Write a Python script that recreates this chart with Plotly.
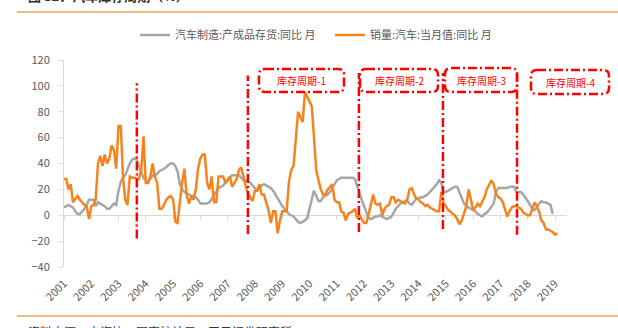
import pandas as pd
import plotly.graph_objects as go

# ---- data -------------------------------------------------------------
YEARS = ["2001", "2002", "2003", "2004", "2005", "2006", "2007", "2008", "2009", "2010",
         "2011", "2012", "2013", "2014", "2015", "2016", "2017", "2018", "2019"]

# 汽车制造:产成品存货:同比 (monthly, from 2001-01)
INVENTORY_YOY = [
    6, 7, 8, 7, 6, 3, 1, 1, 3, 5, 8, 12,
    12, 12, 7, 10, 9, 8, 7, 5, 5, 7, 9, 8,
    19, 26, 29, 31, 36, 40, 43, 44, 43, 38, 33, 29,
    27, 26, 28, 31, 30, 32, 34, 35, 36, 37, 39, 40,
    40, 38, 34, 24, 20, 18, 17, 16, 15, 15, 14, 12,
    9, 9, 9, 9, 10, 13, 16, 18, 21, 22, 23, 25,
    27, 29, 31, 31, 31, 31, 29, 27, 27, 26, 25, 23,
    21, 19, 21, 23, 24, 23, 22, 21, 19, 16, 13, 10,
    7, 5, 3, 1, 0, -1, -3, -5, -6, -5, -4, -2,
    6, 13, 19, 15, 11, 11, 14, 15, 16, 18, 21, 24,
    27, 28, 29, 29, 29, 29, 29, 29, 28, 22, 17, 12,
    7, 3, -2, -3, -2, -1, -1, 0, -1, -2, -3, -2,
    -1, 2, 5, 7, 9, 10, 11, 11, 9, 8, 11, 13,
    13, 14, 14, 15, 16, 18, 20, 22, 24, 27, 25, 18,
    18, 19, 20, 21, 22, 22, 18, 13, 9, 7, 6, 5,
    4, 3, 1, 0, -1, 1, 2, 4, 7, 9, 18, 21,
    21, 21, 21, 21, 22, 22, 22, 18, 18, 18, 16, 13,
    11, 8, 5, 4, 6, 9, 11, 10, 10, 9, 8, 1,
]

# 销量:汽车:当月值:同比 (monthly, from 2001-01)
SALES_YOY = [
    28, 28, 20, 24, 10, 13, 15, 12, 10, 8, 7, -3,
    7, 8, 12, 40, 46, 38, 47, 40, 44, 54, 50, 36,
    69, 69, 30, 12, 8, 30, 29, 29, 28, 28, 35, 61,
    25, 25, 30, 40, 30, 25, 5, 5, 8, 12, 14, 15,
    12, -5, -6, 12, 25, 36, 15, 9, 15, 12, 20, 36,
    44, 47, 47, 25, 20, 30, 10, 10, 30, 30, 30, 25,
    28, 30, 22, 25, 28, 35, 37, 30, 22, 17, 14, 11,
    19, 19, 24, 16, 16, 9, 4, -6, 3, 3, -14, -4,
    3, 3, 3, 26, 35, 38, 58, 80, 76, 72, 95, 92,
    88, 84, 58, 35, 27, 20, 16, 16, 20, 22, 24, 12,
    10, 10, 3, 2, -4, 1, 2, 3, 5, -2, 0, -3,
    -6, -6, 0, 8, 16, 9, 8, 9, 0, 5, 7, 8,
    14, 14, 10, 12, 11, 10, 9, 12, 20, 21, 16, 13,
    12, 10, 9, 7, 8, 6, 5, 4, 3, 3, 18, 9,
    7, 4, 3, 1, 0, -3, -7, -4, 2, 7, 20, 12,
    4, 6, 9, 7, 10, 14, 20, 24, 27, 24, 17, 14,
    13, 10, 4, -1, 3, 6, 7, 7, 6, 5, 2, 1,
    0, 0, 5, 10, 7, 3, -4, -6, -11, -11, -12, -13,
    -15, -14,
]

CYCLE_LABELS = ["库存周期-1", "库存周期-2", "库存周期-3", "库存周期-4"]
CYCLE_BREAKS = ["2003-09-03", "2007-09-29", "2011-10-24", "2014-11-22", "2017-08-10"]

SERIES_NAMES = ["汽车制造:产成品存货:同比 月", "销量:汽车:当月值:同比 月"]

# ---- geometry / style -------------------------------------------------
W, H = 618, 328
ML, MR, MT, MB = 64, 51, 60, 61
PW, PH = W - ML - MR, H - MT - MB
FONT = "Noto Sans CJK SC"
GRAY, ORANGE, RED = "#A6A6A6", "#F5841F", "#FF0000"
RULE = "#F4A04E"
DASHDOT = "9px,3px,2px,3px"


def paper(xp, yp):
    """pixel position on the page -> paper coordinates"""
    return (xp - ML) / PW, (H - MB - yp) / PH


inv_dates = pd.date_range("2001-01-01", periods=len(INVENTORY_YOY), freq="MS")
sales_dates = pd.date_range("2001-01-01", periods=len(SALES_YOY), freq="MS")
year_ticks = [f"{y}-01-01" for y in YEARS]
x_range = ["2001-01-01", "2019-06-10"]

fig = go.Figure()
fig.add_trace(go.Scatter(x=inv_dates, y=INVENTORY_YOY, name=SERIES_NAMES[0],
                         mode="lines", line=dict(color=GRAY, width=2.5),
                         xaxis="x", yaxis="y"))
fig.add_trace(go.Scatter(x=sales_dates, y=SALES_YOY, name=SERIES_NAMES[1],
                         mode="lines", line=dict(color=ORANGE, width=2.5),
                         xaxis="x2", yaxis="y"))

shapes = []
# cycle boundary markers
tops = [102, 108, 110, 110, 110]
bottoms = [-18, -14.5, -13, -10.7, -15]
for d, y0, y1 in zip(CYCLE_BREAKS, bottoms, tops):
    shapes.append(dict(type="line", xref="x", yref="y", x0=d, x1=d, y0=y0, y1=y1,
                       line=dict(color=RED, width=2.5, dash=DASHDOT)))

# rounded label boxes (pixel extents)
boxes = [(259, 69, 344, 92), (360, 69, 438, 92), (445, 68, 517, 92), (531, 70, 609, 94)]
r = 6
annotations = []
for (x0, y0, x1, y1), label in zip(boxes, CYCLE_LABELS):
    pts = [
        ("M", (x0 + r, y0)), ("L", (x1 - r, y0)), ("Q", (x1, y0), (x1, y0 + r)),
        ("L", (x1, y1 - r)), ("Q", (x1, y1), (x1 - r, y1)),
        ("L", (x0 + r, y1)), ("Q", (x0, y1), (x0, y1 - r)),
        ("L", (x0, y0 + r)), ("Q", (x0, y0), (x0 + r, y0)),
    ]
    path = ""
    for cmd, *ps in pts:
        path += cmd + " ".join("%.5f,%.5f" % paper(*p) for p in ps) + " "
    path += "Z"
    shapes.append(dict(type="path", xref="paper", yref="paper", path=path,
                       line=dict(color=RED, width=2.5, dash=DASHDOT)))
    cx, cy = paper((x0 + x1) / 2, (y0 + y1) / 2)
    annotations.append(dict(x=cx, y=cy, xref="paper", yref="paper", text=label,
                            showarrow=False, font=dict(family=FONT, size=10, color=RED),
                            xanchor="center", yanchor="middle"))

# header / footer rules
for yp in (12, 316):
    xa, ya = paper(17, yp)
    xb, _ = paper(W + 2, yp)
    shapes.append(dict(type="line", xref="paper", yref="paper", x0=xa, x1=xb, y0=ya, y1=ya,
                       line=dict(color=RULE, width=1.5)))

tx, ty = paper(26, 7)
annotations.append(dict(x=tx, y=ty, xref="paper", yref="paper", text="<b>图 32：汽车库存周期（%）</b>",
                        showarrow=False, xanchor="left", yanchor="bottom",
                        font=dict(family=FONT, size=13, color="#333333")))
sx, sy = paper(26, 321)
annotations.append(dict(x=sx, y=sy, xref="paper", yref="paper",
                        text="资料来源：中汽协，国家统计局，天风证券研究所",
                        showarrow=False, xanchor="left", yanchor="top",
                        font=dict(family=FONT, size=12, color="#333333")))

lx, ly = paper(135, 35)
fig.update_layout(
    width=W, height=H,
    margin=dict(l=ML, r=MR, t=MT, b=MB, pad=0),
    paper_bgcolor="white", plot_bgcolor="white",
    font=dict(family=FONT, size=11, color="#595959"),
    showlegend=True,
    legend=dict(orientation="h", x=lx, y=ly, xanchor="left", yanchor="middle",
                font=dict(family=FONT, size=11, color="#595959"),
                entrywidth=150, entrywidthmode="pixels",
                bgcolor="rgba(0,0,0,0)", borderwidth=0),
    xaxis=dict(type="date", range=x_range, showgrid=False, zeroline=False,
               showline=False, ticks="", tickmode="array", tickvals=year_ticks,
               ticktext=YEARS, tickangle=-45, ticklabelstandoff=7,
               tickfont=dict(family=FONT, size=11, color="#595959")),
    xaxis2=dict(type="date", matches="x", overlaying="x", anchor="free", position=0.25,
                showgrid=False, zeroline=False, showline=True, linecolor="#D9D9D9",
                linewidth=1, ticks="outside", ticklen=4, tickcolor="#D9D9D9",
                tickmode="array", tickvals=year_ticks, showticklabels=False,
                layer="below traces"),
    yaxis=dict(range=[-40, 120], dtick=20, showgrid=False, zeroline=False,
               showline=True, linecolor="#D9D9D9", linewidth=1,
               ticks="outside", ticklen=4, tickcolor="#D9D9D9", ticklabelstandoff=7,
               tickfont=dict(family=FONT, size=11, color="#595959"),
               layer="below traces"),
    shapes=shapes,
    annotations=annotations,
)

fig.write_html("out.html")
